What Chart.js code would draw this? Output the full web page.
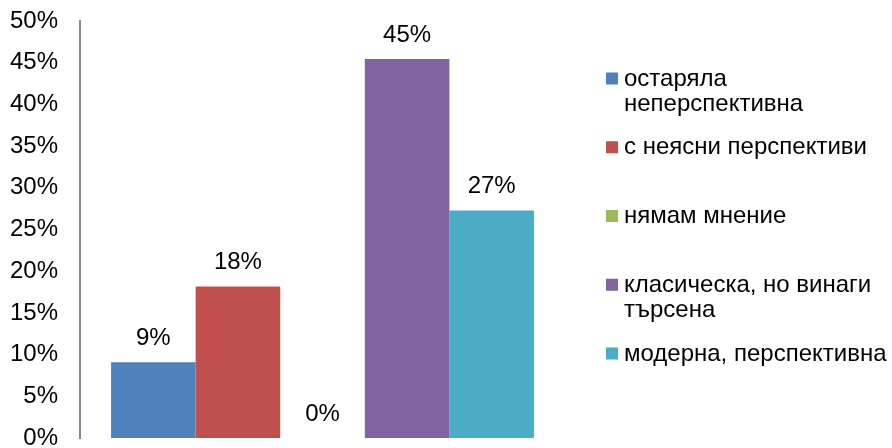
<!DOCTYPE html>
<html>
<head>
<meta charset="utf-8">
<script src="https://cdn.jsdelivr.net/npm/chart.js@4.4.1/dist/chart.umd.min.js"></script>
<style>
  body { margin: 0; background: #fff; }
  #wrap { width: 892px; height: 448px; }
</style>
</head>
<body>
<div id="wrap"><canvas id="chart"></canvas></div>
<script>
// data (11 answers -> 1/11, 2/11 ...)
const categories = [''];
const seriesNames = ['остаряла неперспективна', 'с неясни перспективи', 'нямам мнение', 'класическа, но винаги търсена', 'модерна, перспективна'];
const seriesValues = [9.09, 18.18, 0, 45.45, 27.27];
const seriesColors = ['#4F81BD', '#C0504D', '#9BBB59', '#8064A2', '#4BACC6'];
const yTicks = [0, 5, 10, 15, 20, 25, 30, 35, 40, 45, 50];

const FAMILY = '"Liberation Sans", Arial, sans-serif';
const FONT = '24px ' + FAMILY;
const TICK_PAD = 22;

// value labels above the bars
const valueLabels = {
  id: 'valueLabels',
  afterDatasetsDraw(chart) {
    const ctx = chart.ctx;
    ctx.save();
    ctx.font = FONT;
    ctx.fillStyle = '#000';
    ctx.textAlign = 'center';
    ctx.textBaseline = 'middle';
    chart.data.datasets.forEach((ds, i) => {
      chart.getDatasetMeta(i).data.forEach((bar, j) => {
        ctx.fillText(Math.round(ds.data[j]) + '%', bar.x, bar.y - 24);
      });
    });
    ctx.restore();
  }
};

// legend on the right, Excel style (entries evenly spaced, long names wrapped)
const sideLegend = {
  id: 'sideLegend',
  afterDraw(chart) {
    const ctx = chart.ctx;
    ctx.save();
    ctx.font = FONT;
    ctx.textBaseline = 'middle';
    const boxX = 606, textX = 624, maxW = 268, top = 79, step = 68.75, lineH = 25;
    chart.data.datasets.forEach((ds, i) => {
      const lines = [];
      let cur = '';
      ds.label.split(' ').forEach(w => {
        const test = cur ? cur + ' ' + w : w;
        if (cur && ctx.measureText(test).width > maxW) { lines.push(cur); cur = w; }
        else cur = test;
      });
      lines.push(cur);
      const y = top + i * step;
      ctx.fillStyle = ds.backgroundColor;
      ctx.fillRect(boxX, y - 6.5, 12, 12);
      ctx.fillStyle = '#000';
      lines.forEach((l, k) => ctx.fillText(l, textX, y + k * lineH));
    });
    ctx.restore();
  }
};

new Chart(document.getElementById('chart'), {
  type: 'bar',
  data: {
    labels: categories,
    datasets: seriesNames.map((name, i) => ({
      label: name,
      data: [seriesValues[i]],
      backgroundColor: seriesColors[i],
      categoryPercentage: 0.872,
      barPercentage: 1
    }))
  },
  options: {
    responsive: true,
    maintainAspectRatio: false,
    animation: false,
    layout: { padding: { left: 10, top: 21, right: 327, bottom: 10 } },
    plugins: { legend: { display: false }, tooltip: { enabled: false } },
    scales: {
      x: { display: false },
      y: {
        min: 0, max: 50,
        afterBuildTicks: axis => { axis.ticks = yTicks.map(v => ({ value: v })); },
        // chart.js counts the tick padding twice; keep it once and let layout padding handle top/bottom
        afterFit: axis => {
          axis.width -= TICK_PAD;
          axis.paddingTop = 0;
          axis.paddingBottom = 0;
        },
        grid: { display: false, drawTicks: false },
        border: { display: true, color: '#8a8a8a', width: 2 },
        ticks: {
          padding: TICK_PAD,
          color: '#000',
          font: { family: FAMILY, size: 24 },
          callback: v => v + '%'
        }
      }
    }
  },
  plugins: [valueLabels, sideLegend]
});
</script>
</body>
</html>
